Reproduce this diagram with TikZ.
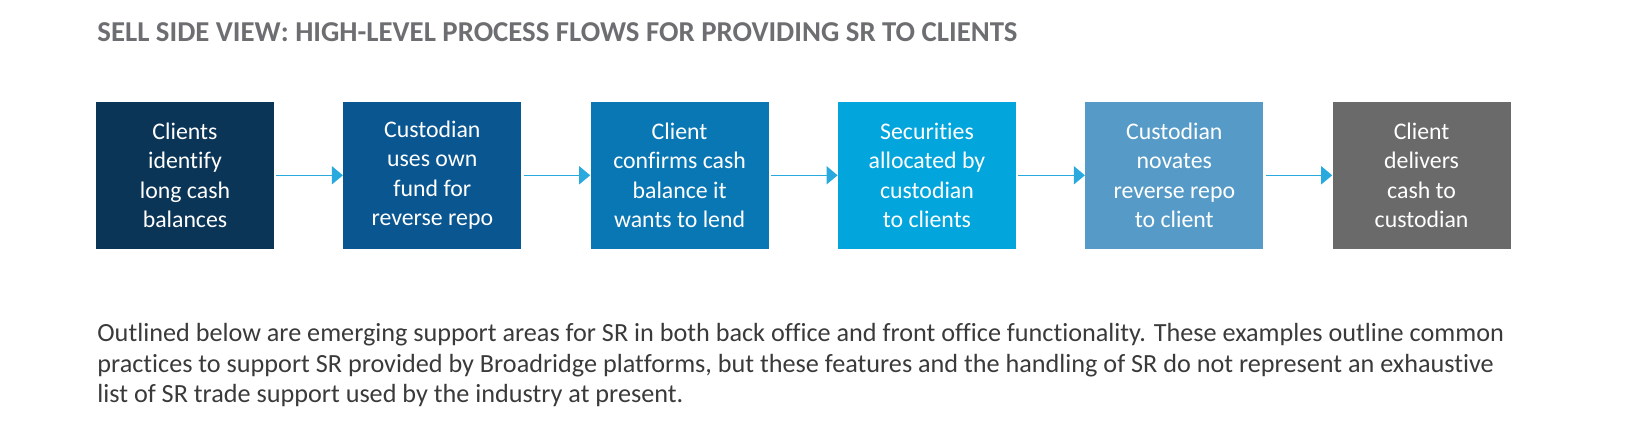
\documentclass[tikz,border=0pt]{standalone}
\usepackage{fontspec}
\setmainfont{Carlito}[Ligatures=NoCommon]
\usepackage{xcolor}
\usepackage{tikz}
\usetikzlibrary{arrows.meta, positioning}

\definecolor{stepnavy}{HTML}{0B3556}
\definecolor{stepblue}{HTML}{0A5691}
\definecolor{stepmid}{HTML}{0A77B5}
\definecolor{stepcyan}{HTML}{03A6DC}
\definecolor{steplight}{HTML}{569BC7}
\definecolor{stepgrey}{HTML}{6A6A6A}
\definecolor{arrowcyan}{HTML}{2AA9DF}
\definecolor{titlegrey}{HTML}{6D6E71}
\definecolor{bodygrey}{HTML}{3A3A3A}

\begin{document}
\begin{tikzpicture}[
    x=0.5pt, y=-0.5pt,
    stepbox/.style={rectangle, draw=none, minimum width=89pt, minimum height=73.6pt,
                    inner sep=0pt, text=white, align=center,
                    font=\fontsize{11.9}{14.75}\selectfont},
    arr/.style={-{Triangle[length=5.5pt, width=9pt]}, line width=0.8pt, arrowcyan}
]
\useasboundingbox (0,0) rectangle (1630,439);

% title and note
\node[anchor=base west, text=titlegrey, font=\bfseries\fontsize{14.4}{16}\selectfont, inner sep=0pt]
    (title) at (97,41) {SELL SIDE VIEW: HIGH-LEVEL PROCESS FLOWS FOR PROVIDING SR TO CLIENTS};

% process steps
\node[stepbox, fill=stepnavy]  (ident)   at (185,175.3)    {Clients\\identify\\long cash\\balances};
\node[stepbox, fill=stepblue]  (fund)    at (432.3,175.3)  {Custodian\\uses own\\fund for\\reverse repo};
\node[stepbox, fill=stepmid]   (confirm) at (679.6,175.3)  {Client\\confirms cash\\balance it\\wants to lend};
\node[stepbox, fill=stepcyan]  (alloc)   at (927,175.3)    {Securities\\allocated by\\custodian\\to clients};
\node[stepbox, fill=steplight] (novate)  at (1174.3,175.3) {Custodian\\novates\\reverse repo\\to client};
\node[stepbox, fill=stepgrey]  (deliver) at (1421.6,175.3) {Client\\delivers\\cash to\\custodian};

\draw[arr] ([xshift=1pt]ident.east)   -- (fund.west);
\draw[arr] ([xshift=1pt]fund.east)    -- (confirm.west);
\draw[arr] ([xshift=1pt]confirm.east) -- (alloc.west);
\draw[arr] ([xshift=1pt]alloc.east)   -- (novate.west);
\draw[arr] ([xshift=1pt]novate.east)  -- (deliver.west);

\node[anchor=north west, text=bodygrey, align=left, inner sep=0pt,
      font=\fontsize{13.1}{15.35}\selectfont] (note) at (97,323)
    {Outlined below are emerging support areas for SR in both back office and front office functionality. These examples outline common\\
     practices to support SR provided by Broadridge platforms, but these features and the handling of SR do not represent an exhaustive\\
     list of SR trade support used by the industry at present.};
\end{tikzpicture}
\end{document}
